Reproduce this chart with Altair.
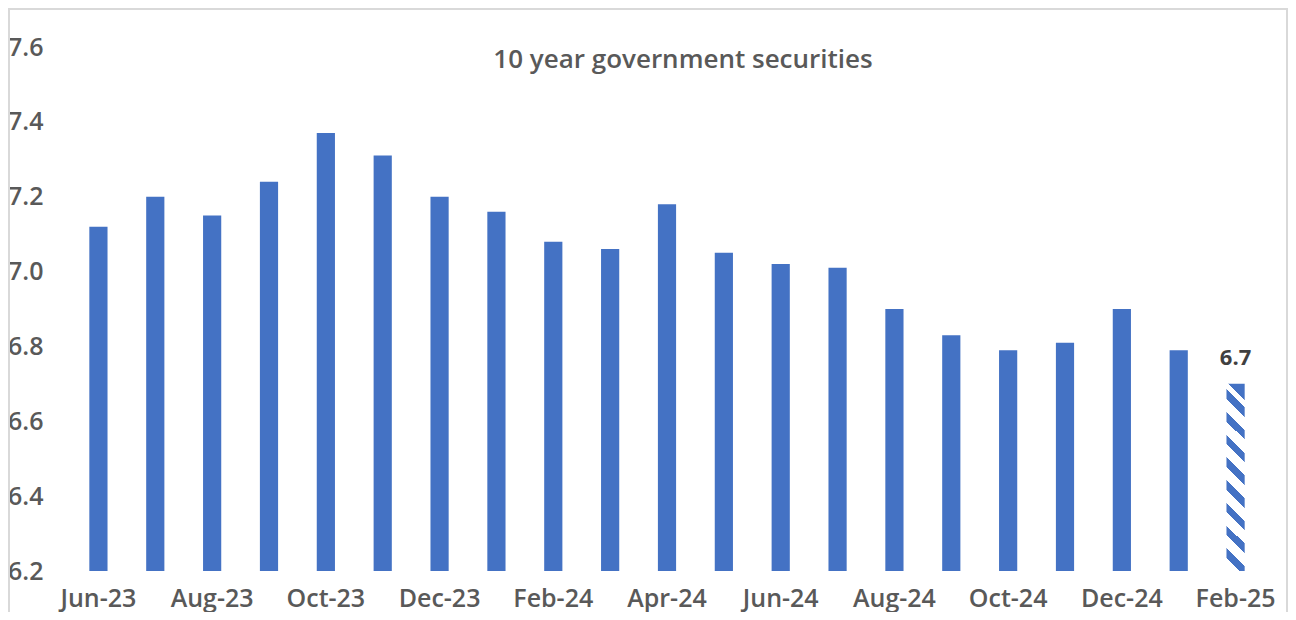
import altair as alt
import pandas as pd

months = ["Jun-23", "Jul-23", "Aug-23", "Sep-23", "Oct-23", "Nov-23", "Dec-23",
          "Jan-24", "Feb-24", "Mar-24", "Apr-24", "May-24", "Jun-24", "Jul-24",
          "Aug-24", "Sep-24", "Oct-24", "Nov-24", "Dec-24", "Jan-25", "Feb-25"]
yields = [7.12, 7.20, 7.15, 7.24, 7.37, 7.31, 7.20,
          7.16, 7.08, 7.06, 7.18, 7.05, 7.02, 7.01,
          6.90, 6.83, 6.79, 6.81, 6.90, 6.79, 6.70]
projected = [False] * 20 + [True]
tick_labels = ["Jun-23", "Aug-23", "Oct-23", "Dec-23", "Feb-24", "Apr-24",
               "Jun-24", "Aug-24", "Oct-24", "Dec-24", "Feb-25"]
y_ticks = [6.2, 6.4, 6.6, 6.8, 7.0, 7.2, 7.4, 7.6]
title_text = "10 year government securities"
y_min, y_max = 6.2, 7.6

df = pd.DataFrame({"month": months, "value": yields, "projected": projected})

W, H = 1194, 524
BLUE = "#4472C4"
GREY = "#595959"
FONT = "Open Sans"

# diagonal hatch pattern as a striped gradient (bounding-box units)
bar_w = 18.0
bar_h = (yields[-1] - y_min) / (y_max - y_min) * H
period = 22.5 / bar_h
stops = []
t = 0.0
while t < 1.05:
    stops += [{"offset": min(t, 1), "color": "white"},
              {"offset": min(t + period * 0.58, 1), "color": "white"},
              {"offset": min(t + period * 0.58, 1), "color": BLUE},
              {"offset": min(t + period, 1), "color": BLUE}]
    t += period
hatch = {"gradient": "linear", "x1": 0, "y1": 1, "x2": bar_w / bar_h, "y2": 0,
         "stops": stops}

x_enc = alt.X("month:N", sort=months,
              scale=alt.Scale(paddingInner=0.68, paddingOuter=0.34),
              axis=alt.Axis(values=tick_labels, title=None, ticks=False, domain=False,
                            labelAngle=0, labelPadding=15, labelFontSize=25,
                            labelColor=GREY, labelFont=FONT, labelFontWeight=600))
y_enc = alt.Y("value:Q", scale=alt.Scale(domain=[y_min, y_max], zero=False, nice=False),
              axis=alt.Axis(values=y_ticks, format=".1f",
                            title=None, ticks=False, domain=False, grid=False,
                            labelPadding=27, labelFontSize=25, labelColor=GREY,
                            labelFont=FONT, labelFontWeight=600))

base = alt.Chart(df)
bars = base.transform_filter("!datum.projected").mark_bar(color=BLUE).encode(
    x=x_enc, y=y_enc, y2=alt.datum(y_min))
hatched = base.transform_filter("datum.projected").mark_bar(fill=hatch).encode(
    x=x_enc, y=y_enc, y2=alt.datum(y_min))
label = base.transform_filter("datum.projected").mark_text(
    baseline="bottom", dy=-14, fontSize=22, fontWeight="bold", color="#404040", font=FONT
).encode(x=x_enc, y=y_enc, text=alt.Text("value:Q", format=".1f"))

title = alt.Chart(alt.Data(values=[{"t": title_text}])).mark_text(
    fontSize=26, fontWeight=600, color=GREY, font=FONT, baseline="middle", align="center"
).encode(x=alt.value(613), y=alt.value(13), text="t:N")

border = alt.Chart(alt.Data(values=[{}])).mark_rect(
    filled=False, stroke="#d9d9d9", strokeWidth=2
).encode(x=alt.value(-61), x2=alt.value(1217), y=alt.value(-38), y2=alt.value(700))

chart = alt.layer(border, bars, hatched, label, title).properties(
    width=W, height=H,
    padding={"left": 62, "top": 39, "right": 24, "bottom": 41},
    autosize=alt.AutoSizeParams(type="none"),
    background="white",
).configure_view(stroke="transparent", strokeWidth=0)

chart.save("out.html", embed_options={"renderer": "svg", "actions": False})
